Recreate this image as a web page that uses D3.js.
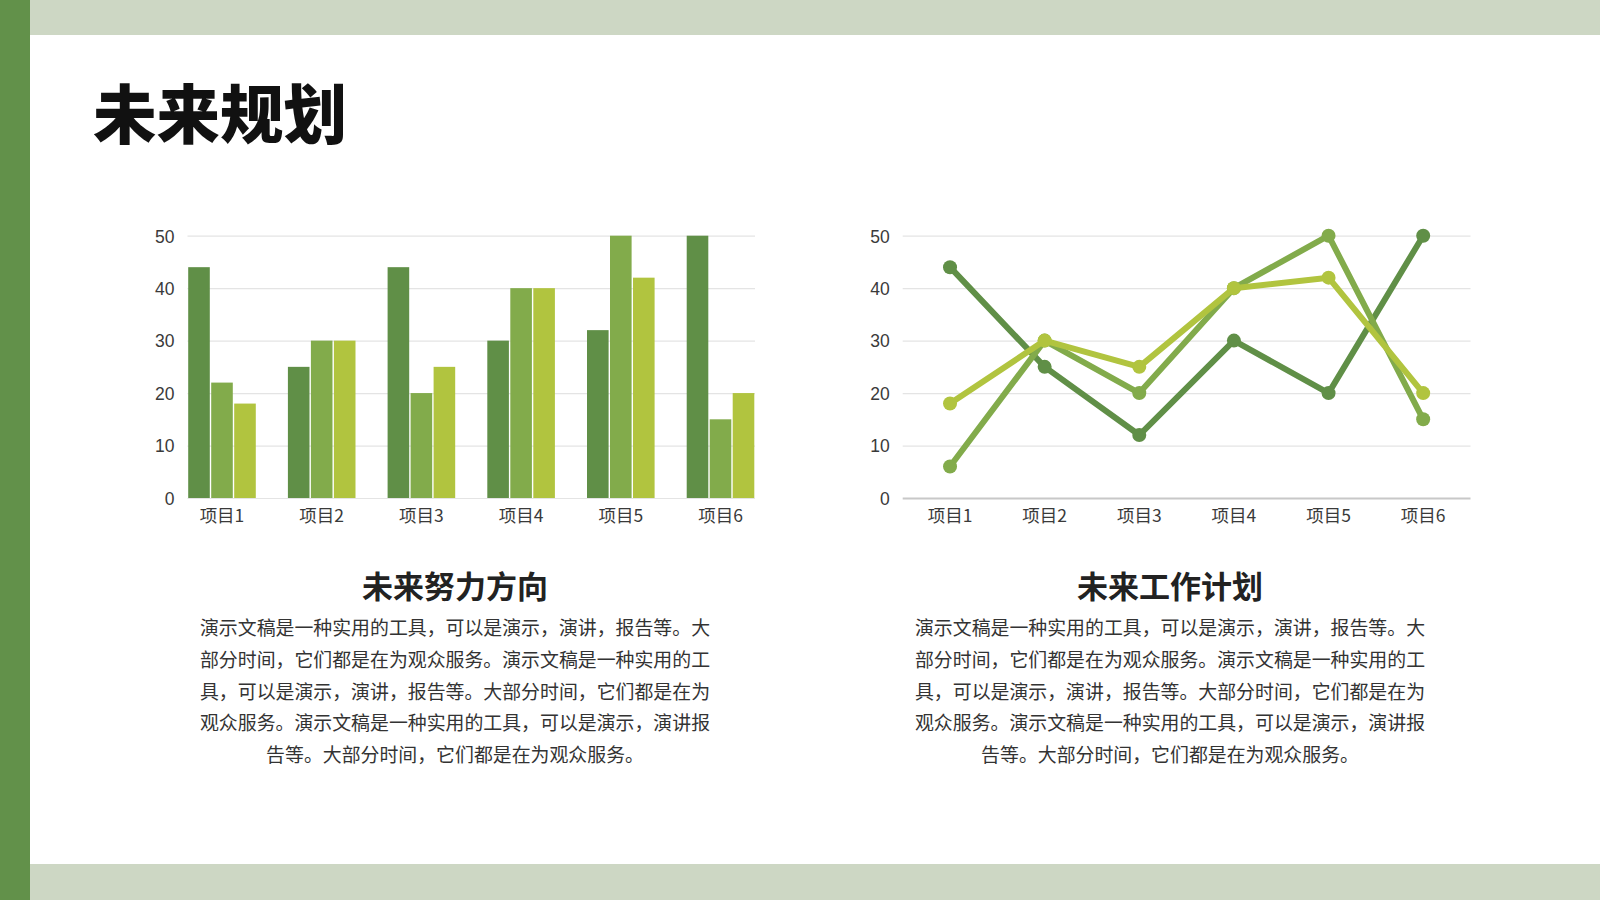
<!DOCTYPE html>
<html>
<head>
<meta charset="utf-8">
<script src="https://cdn.jsdelivr.net/npm/d3@7/dist/d3.min.js"></script>
<style>
	html, body { margin: 0; padding: 0; background: #fff; }
	svg { display: block; font-family: "Noto Sans CJK SC", "Noto Sans", sans-serif; }
</style>
</head>
<body>
<svg id="slide" width="1600" height="900"></svg>
<script>
"use strict";

// Chart data
const categories = ["项目1", "项目2", "项目3", "项目4", "项目5", "项目6"];
const yTicks = [0, 10, 20, 30, 40, 50];

const barSeriesA = [44, 25, 44, 30, 32, 50];
const barSeriesB = [22, 30, 20, 40, 50, 15];
const barSeriesC = [18, 30, 25, 40, 42, 20];

const lineSeriesA = [44, 25, 12, 30, 20, 50];
const lineSeriesB = [6, 30, 20, 40, 50, 15];
const lineSeriesC = [18, 30, 25, 40, 42, 20];

const seriesColors = ["#608f47", "#82ab4b", "#b1c43f"];

// Texts
const slideTitle = "未来规划";
const leftHeading = "未来努力方向";
const rightHeading = "未来工作计划";
const bodyLines = [
	"演示文稿是一种实用的工具，可以是演示，演讲，报告等。大",
	"部分时间，它们都是在为观众服务。演示文稿是一种实用的工",
	"具，可以是演示，演讲，报告等。大部分时间，它们都是在为",
	"观众服务。演示文稿是一种实用的工具，可以是演示，演讲报",
	"告等。大部分时间，它们都是在为观众服务。"
];

const svg = d3.select("#slide");

// Slide decoration
svg.append("rect").attr("x", 0).attr("y", 0).attr("width", 1600).attr("height", 900).attr("fill", "#fff");
svg.append("rect").attr("x", 30).attr("y", 0).attr("width", 1570).attr("height", 35).attr("fill", "#cdd7c4");
svg.append("rect").attr("x", 30).attr("y", 864).attr("width", 1570).attr("height", 36).attr("fill", "#cdd7c4");
svg.append("rect").attr("x", 0).attr("y", 0).attr("width", 30).attr("height", 900).attr("fill", "#62914a");

svg.append("text")
	.attr("x", 93).attr("y", 115).attr("dy", "0.36em")
	.style("font-size", "63.5px").style("font-weight", 900).attr("fill", "#111")
	.text(slideTitle);

const y = d3.scaleLinear().domain([0, 50]).range([498, 235.7]);

function drawYAxis(g, left, right, baseColor) {
	const axis = d3.axisLeft(y).tickValues(yTicks).tickSize(-(right - left)).tickPadding(13);
	g.attr("transform", `translate(${left},0)`).call(axis);
	g.select(".domain").remove();
	g.selectAll(".tick line").attr("stroke", "#e4e4e4").attr("stroke-width", 1.2);
	if (baseColor) {
		g.selectAll(".tick").filter(d => d === 0).select("line")
			.attr("stroke", baseColor).attr("stroke-width", 1.8);
	}
	g.selectAll(".tick text")
		.attr("dy", "0.36em")
		.style("font-size", "17.5px").attr("fill", "#3a3a3a");
}

function drawXLabels(g, scale, offset) {
	g.selectAll("text.cat")
		.data(categories)
		.enter()
		.append("text")
		.attr("class", "cat")
		.attr("x", d => scale(d) + offset)
		.attr("y", 515.5).attr("dy", "0.36em")
		.attr("text-anchor", "middle")
		.style("font-size", "17.5px").attr("fill", "#3a3a3a")
		.text(d => d);
}

// Bar chart
const barLeft = 187.5, barRight = 755;
const x0 = d3.scaleBand().domain(categories).range([barLeft, barRight]).paddingInner(0.308).paddingOuter(0);
const x1 = d3.scaleBand().domain([0, 1, 2]).range([0, x0.bandwidth()]).padding(0);
const barSeries = [barSeriesA, barSeriesB, barSeriesC];

const barChart = svg.append("g");
drawYAxis(barChart.append("g"), barLeft, barRight, null);

barSeries.forEach((values, si) => {
	barChart.append("g")
		.selectAll("rect")
		.data(values)
		.enter()
		.append("rect")
		.attr("x", (d, i) => x0(categories[i]) + x1(si) + 0.7)
		.attr("y", d => y(d))
		.attr("width", x1.bandwidth() - 1.4)
		.attr("height", d => y(0) - y(d))
		.attr("fill", seriesColors[si]);
});
drawXLabels(barChart, x0, x0.bandwidth() / 2);

// Line chart
const lineLeft = 902.7, lineRight = 1470.5;
const xp = d3.scalePoint().domain(categories).range([lineLeft, lineRight]).padding(0.5);
const lineSeries = [lineSeriesA, lineSeriesB, lineSeriesC];

const lineChart = svg.append("g");
drawYAxis(lineChart.append("g"), lineLeft, lineRight, "#c8c8c8");

const line = d3.line()
	.x((d, i) => xp(categories[i]))
	.y(d => y(d));

lineSeries.forEach((values, si) => {
	const g = lineChart.append("g");
	g.append("path")
		.attr("d", line(values))
		.attr("fill", "none")
		.attr("stroke", seriesColors[si])
		.attr("stroke-width", 6)
		.attr("stroke-linejoin", "round")
		.attr("stroke-linecap", "round");
	g.selectAll("circle")
		.data(values)
		.enter()
		.append("circle")
		.attr("cx", (d, i) => xp(categories[i]))
		.attr("cy", d => y(d))
		.attr("r", 7)
		.attr("fill", seriesColors[si]);
});
drawXLabels(lineChart, xp, 0);

// Captions
function drawCaption(cx, heading) {
	svg.append("text")
		.attr("x", cx).attr("y", 586.7).attr("dy", "0.36em")
		.attr("text-anchor", "middle")
		.style("font-size", "31px").style("font-weight", 700).attr("fill", "#222")
		.text(heading);
	svg.append("g")
		.selectAll("text")
		.data(bodyLines)
		.enter()
		.append("text")
		.attr("x", cx)
		.attr("y", (d, i) => 628.6 + i * 31.6).attr("dy", "0.36em")
		.attr("text-anchor", "middle")
		.style("font-size", "18.9px").attr("fill", "#333")
		.text(d => d);
}

drawCaption(455, leftHeading);
drawCaption(1170, rightHeading);
</script>
</body>
</html>
